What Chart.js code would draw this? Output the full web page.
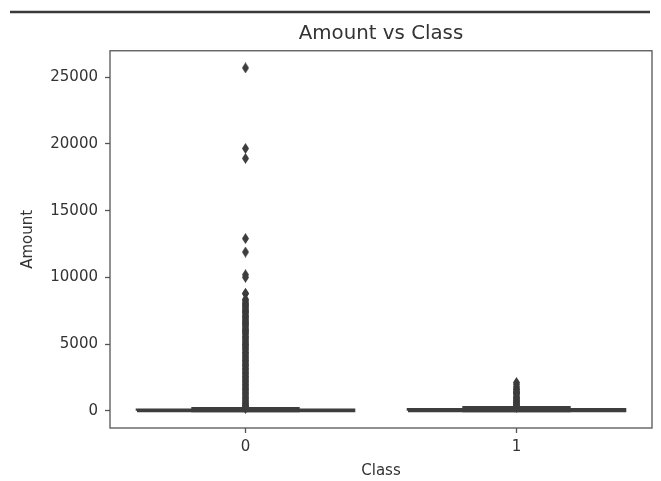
<!DOCTYPE html>
<html>
<head>
<meta charset="utf-8">
<script src="https://cdn.jsdelivr.net/npm/chart.js@4.4.0/dist/chart.umd.min.js"></script>
<style>
  html, body { margin: 0; padding: 0; background: #fff; }
  canvas { display: block; }
</style>
</head>
<body>
<canvas id="boxChart" width="661" height="481"></canvas>
<script>
const classes = ["0", "1"];
const yTicks = [0, 5000, 10000, 15000, 20000, 25000];

// min, q1, median, q3, upper whisker
const class0Stats = [0, 5.6, 22, 77.2, 184];
const class1Stats = [0, 1, 9.3, 105.9, 262];

// fliers; the lower part of each column is so dense it reads as a solid bar
const class0Outliers = [25691, 19656, 18910, 12911, 11898, 10199, 10000, 8790, 8787, 8360,
    8290, 8151, 8060, 7960, 7880, 7790, 7712, 7610, 7520, 7440, 7366, 7270, 7150, 7075,
    6982, 6890, 6795, 6700, 6610, 6570, 6480, 6410, 6300, 6195, 6110, 6020, 5970, 5880,
    5790, 5690, 5575, 5490, 5390, 5300, 5180, 5090, 4990, 4960, 4870, 4780, 4690, 4585,
    4480, 4370, 4290, 4180, 4090, 3970, 3880, 3790, 3690, 3580, 3490, 3395, 3300, 3185,
    3090, 2975, 2890, 2790, 2690, 2585, 2490, 2390, 2290, 2180, 2090, 1990, 1890, 1785,
    1690, 1590, 1500, 1400, 1310, 1210, 1110, 1015, 920, 820, 730, 640, 550, 470, 400,
    330, 280, 230, 190];
const class1Outliers = [2126, 1990, 1810, 1700, 1600, 1505, 1402, 1390, 1354, 1335, 1219,
    1097, 996, 925, 829, 760, 720, 635, 560, 512, 454, 390, 320, 270];

const ink = "#3d3d3d";

const diamond = document.createElement("canvas");
diamond.width = 7;
diamond.height = 11;
const dctx = diamond.getContext("2d");
dctx.fillStyle = ink;
dctx.beginPath();
dctx.moveTo(3.5, 0);
dctx.lineTo(7, 5.5);
dctx.lineTo(3.5, 11);
dctx.lineTo(0, 5.5);
dctx.closePath();
dctx.fill();

function segment(points) {
    return {
        data: points.map(p => ({ x: p[0], y: p[1] })),
        showLine: true,
        borderColor: ink,
        borderWidth: 2.8,
        pointRadius: 0,
        fill: false
    };
}

function boxDatasets(i, stats, outliers) {
    const [lo, q1, med, q3, hi] = stats;
    return [
        segment([[i - 0.4, q1], [i + 0.4, q1], [i + 0.4, q3], [i - 0.4, q3], [i - 0.4, q1]]),
        segment([[i - 0.4, med], [i + 0.4, med]]),
        segment([[i, q1], [i, lo]]),
        segment([[i, q3], [i, hi]]),
        segment([[i - 0.2, lo], [i + 0.2, lo]]),
        segment([[i - 0.2, hi], [i + 0.2, hi]]),
        {
            data: outliers.map(v => ({ x: i, y: v })),
            pointStyle: diamond,
            pointRadius: 5,
            showLine: false
        }
    ];
}

const datasets = [
    ...boxDatasets(0, class0Stats, class0Outliers),
    ...boxDatasets(1, class1Stats, class1Outliers)
];

const frame = {
    id: "frame",
    beforeDraw(chart) {
        const c = chart.ctx;
        c.save();
        c.strokeStyle = "#3a3a3a";
        c.lineWidth = 2.5;
        c.beginPath();
        c.moveTo(10, 12);
        c.lineTo(650, 12);
        c.stroke();
        c.restore();
    },
    afterDatasetsDraw(chart) {
        const a = chart.chartArea;
        const c = chart.ctx;
        c.save();
        c.strokeStyle = "#555";
        c.lineWidth = 1.3;
        c.strokeRect(a.left, a.top, a.right - a.left, a.bottom - a.top);
        c.restore();
    }
};

const textColor = "#333";
const font = { family: "DejaVu Sans", size: 15 };

new Chart(document.getElementById("boxChart"), {
    type: "scatter",
    data: { datasets },
    options: {
        responsive: false,
        animation: false,
        devicePixelRatio: 1,
        layout: { padding: { top: 11, right: 9, left: 0, bottom: 0 } },
        plugins: {
            legend: { display: false },
            tooltip: { enabled: false },
            title: {
                display: true,
                fullSize: false,
                text: "Amount vs Class",
                color: textColor,
                font: { family: "DejaVu Sans", size: 19.8, weight: "normal" },
                padding: { top: 11, bottom: 5 }
            }
        },
        scales: {
            x: {
                type: "linear",
                min: -0.5,
                max: 1.5,
                afterBuildTicks: s => { s.ticks = classes.map((c, i) => ({ value: i })); },
                afterFit: s => { s.height = 53; },
                ticks: {
                    color: textColor,
                    font,
                    padding: 5,
                    callback: v => classes[v]
                },
                grid: { drawOnChartArea: false, tickLength: 5, tickColor: "#555", tickWidth: 1.3 },
                border: { display: false },
                title: { display: true, text: "Class", color: textColor, font, padding: { top: 2, bottom: 1 } }
            },
            y: {
                min: -1285,
                max: 26976,
                afterBuildTicks: s => { s.ticks = yTicks.map(v => ({ value: v })); },
                afterFit: s => { s.width = 110; },
                ticks: {
                    color: textColor,
                    font,
                    padding: 7,
                    callback: v => String(v)
                },
                grid: { drawOnChartArea: false, tickLength: 5, tickColor: "#555", tickWidth: 1.3 },
                border: { display: false },
                title: { display: true, text: "Amount", color: textColor, font, padding: { top: 19, bottom: 0 } }
            }
        }
    },
    plugins: [frame]
});
</script>
</body>
</html>
